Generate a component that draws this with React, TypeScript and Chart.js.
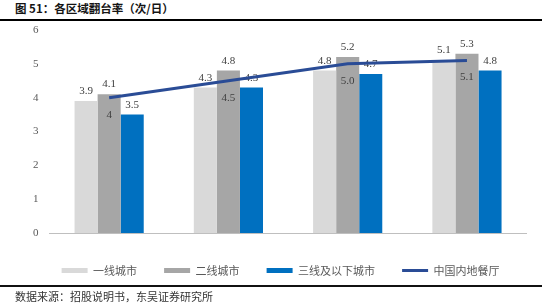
import React, { useEffect, useRef } from "react";
import { Chart, registerables } from "chart.js";

Chart.register(...registerables);

// Table-turnover rate by city tier (times per day)
const years = ["2015", "2016", "2017", "2018"];
const tier1 = [3.9, 4.3, 4.8, 5.1];
const tier2 = [4.1, 4.8, 5.2, 5.3];
const tier3 = [3.5, 4.3, 4.7, 4.8];
const mainlandText = ["4", "4.5", "5.0", "5.1"];
const mainland = mainlandText.map(Number);
const seriesNames = ["一线城市", "二线城市", "三线及以下城市", "中国内地餐厅"];
const seriesColors = ["#d9d9d9", "#a6a6a6", "#0070c0", "#2a4c96"];
const yMin = 0;
const yMax = 6;

const NUM_FONT = '"Liberation Serif", "Times New Roman", serif';
const CJK_FONT = '"Noto Sans CJK SC", "Noto Sans", sans-serif';

// Value labels: above each bar, below each point of the line
const valueLabels = {
  id: "valueLabels",
  afterDatasetDraw(chart: any, args: any) {
    const meta = args.meta;
    if (meta.type !== "bar") return;
    const ctx = chart.ctx;
    const data = chart.data.datasets[args.index].data as number[];
    ctx.save();
    ctx.font = `11px ${NUM_FONT}`;
    ctx.fillStyle = "#404040";
    ctx.textAlign = "center";
    ctx.textBaseline = "alphabetic";
    meta.data.forEach((el: any, j: number) => {
      ctx.fillText(data[j].toFixed(1), el.x, el.y - 7);
    });
    ctx.restore();
  },
  afterDatasetsDraw(chart: any) {
    const meta = chart.getDatasetMeta(3);
    const ctx = chart.ctx;
    ctx.save();
    ctx.font = `11px ${NUM_FONT}`;
    ctx.fillStyle = "#404040";
    ctx.textAlign = "center";
    ctx.textBaseline = "alphabetic";
    meta.data.forEach((el: any, j: number) => {
      ctx.fillText(mainlandText[j], el.x, el.y + 20);
    });
    ctx.restore();
  },
};

const PAD_RIGHT = 27.4;

function TurnoverChart() {
  const ref = useRef<HTMLCanvasElement | null>(null);

  useEffect(() => {
    if (!ref.current) return;
    const barSet = (i: number, values: number[]) => ({
      type: "bar" as const,
      label: seriesNames[i],
      data: values,
      backgroundColor: seriesColors[i],
      borderWidth: 0,
      categoryPercentage: 0.58,
      barPercentage: 1,
      order: 0,
    });
    const chart = new Chart(ref.current, {
      type: "bar",
      data: {
        labels: years,
        datasets: [
          barSet(0, tier1),
          barSet(1, tier2),
          barSet(2, tier3),
          {
            type: "line" as const,
            label: seriesNames[3],
            data: mainland,
            borderColor: seriesColors[3],
            backgroundColor: seriesColors[3],
            borderWidth: 3,
            pointRadius: 0,
            tension: 0,
            order: -1,
          } as any,
        ],
      },
      options: {
        animation: false,
        responsive: false,
        maintainAspectRatio: false,
        layout: { padding: { left: 0, right: PAD_RIGHT, top: 8, bottom: 0 } },
        plugins: {
          tooltip: { enabled: false },
          legend: {
            position: "bottom",
            align: "end",
            labels: {
              usePointStyle: true,
              pointStyleWidth: 26,
              boxHeight: 5,
              padding: 27,
              color: "#595959",
              font: { family: CJK_FONT, size: 11 },
              generateLabels: (c: any) =>
                c.data.datasets.map((ds: any, i: number) => ({
                  text: ds.label,
                  fillStyle: seriesColors[i],
                  strokeStyle: seriesColors[i],
                  lineWidth: i === 3 ? 3 : 0,
                  pointStyle: i === 3 ? "line" : "rect",
                  hidden: false,
                  datasetIndex: i,
                  fontColor: "#595959",
                })),
            },
          },
        },
        scales: {
          x: {
            grid: { display: false },
            border: { display: true, color: "#bfbfbf", width: 1 },
            ticks: {
              color: "#404040",
              font: { family: NUM_FONT, size: 11 },
              padding: 8,
            },
            afterFit: (s: any) => {
              s.height = 5;
            },
          },
          y: {
            min: yMin,
            max: yMax,
            grid: { display: false, drawTicks: false },
            border: { display: false },
            ticks: {
              stepSize: 1,
              color: "#595959",
              font: { family: NUM_FONT, size: 11 },
              padding: 11,
            },
            afterFit: (s: any) => {
              s.width = 49.5;
              s.paddingTop = 0;
              s.paddingBottom = 0;
            },
          },
        },
      },
      plugins: [valueLabels],
    });
    return () => chart.destroy();
  }, []);

  return <canvas ref={ref} width={554} height={264} style={{ display: "block", width: 554, height: 264 }} />;
}

export default function App() {
  return (
    <div
      style={{
        position: "absolute",
        left: 0,
        top: 0,
        width: 554,
        height: 308,
        background: "#ffffff",
        overflow: "hidden",
      }}
    >
      <div
        style={{
          position: "absolute",
          left: 15,
          top: 2,
          fontFamily: CJK_FONT,
          fontWeight: 700,
          fontSize: 11.5,
          lineHeight: "13px",
          color: "#141414",
          whiteSpace: "nowrap",
        }}
      >
        图 51：各区域翻台率（次/日）
      </div>
      <div style={{ position: "absolute", left: 0, top: 19, width: 542, height: 2, background: "#000" }} />
      <div style={{ position: "absolute", left: 0, top: 22 }}>
        <TurnoverChart />
      </div>
      <div style={{ position: "absolute", left: 0, top: 285, width: 542, height: 2, background: "#111" }} />
      <div
        style={{
          position: "absolute",
          left: 15,
          top: 289,
          fontFamily: CJK_FONT,
          fontSize: 11,
          lineHeight: "14px",
          color: "#333",
          whiteSpace: "nowrap",
        }}
      >
        数据来源：招股说明书，东吴证券研究所
      </div>
    </div>
  );
}
